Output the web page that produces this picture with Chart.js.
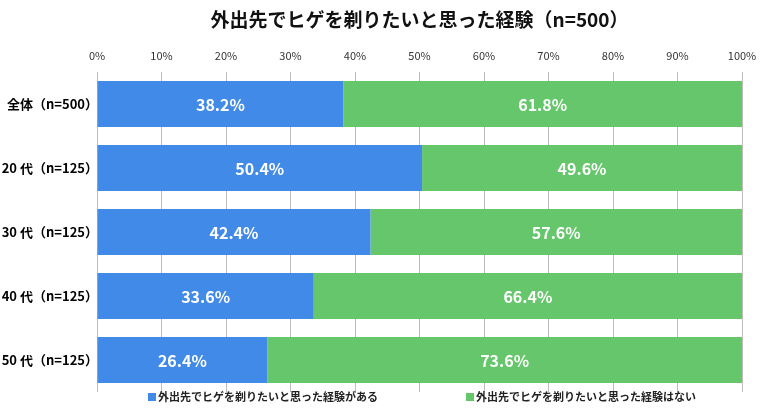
<!DOCTYPE html>
<html>
<head>
<meta charset="utf-8">
<script src="https://cdn.jsdelivr.net/npm/chart.js@4"></script>
<style>
	body { margin: 0; background: #fff; }
	.wrap { position: relative; width: 767px; height: 413px; }
	.legend-item {
		position: absolute;
		top: 388px;
		font: bold 11px 'Noto Sans CJK JP', sans-serif;
		color: #222;
		white-space: nowrap;
	}
	.legend-item span {
		display: inline-block;
		width: 8px;
		height: 8px;
		margin-right: 2px;
	}
</style>
</head>
<body>
<div class="wrap">
	<canvas id="keiken" width="767" height="413"></canvas>
	<div class="legend-item" style="left:148px"><span style="background:#428AE8"></span>外出先でヒゲを剃りたいと思った経験がある</div>
	<div class="legend-item" style="left:466px"><span style="background:#66C66B"></span>外出先でヒゲを剃りたいと思った経験はない</div>
</div>
<script>
const kategoriyalar = ['全体（n=500）', '20 代（n=125）', '30 代（n=125）', '40 代（n=125）', '50 代（n=125）']
const bor = [38.2, 50.4, 42.4, 33.6, 26.4]
const yoq = [61.8, 49.6, 57.6, 66.4, 73.6]
const seriyaNomlari = ['外出先でヒゲを剃りたいと思った経験がある', '外出先でヒゲを剃りたいと思った経験はない']
const sarlavha = '外出先でヒゲを剃りたいと思った経験（n=500）'

const jp = "'Noto Sans CJK JP', sans-serif"

// sarlavha chizma maydoni markazida
const sarlavhaPlugin = {
	id: 'sarlavhaPlugin',
	afterDraw(chart) {
		const ctx = chart.ctx
		const area = chart.chartArea
		ctx.save()
		ctx.fillStyle = '#111'
		ctx.font = 'bold 19px ' + jp
		ctx.textAlign = 'center'
		ctx.textBaseline = 'middle'
		ctx.fillText(sarlavha, (area.left + area.right) / 2, 20)
		ctx.restore()
	},
}

// bar ichidagi foiz yozuvlari
const foizYozuv = {
	id: 'foizYozuv',
	afterDatasetsDraw(chart) {
		const ctx = chart.ctx
		ctx.save()
		ctx.fillStyle = '#fff'
		ctx.font = 'bold 16px ' + jp
		ctx.textAlign = 'center'
		ctx.textBaseline = 'middle'
		chart.data.datasets.forEach((ds, di) => {
			chart.getDatasetMeta(di).data.forEach((bar, i) => {
				const x = (bar.x + bar.base) / 2
				ctx.fillText(ds.data[i].toFixed(1) + '%', x, bar.y + 1)
			})
		})
		ctx.restore()
	},
}

new Chart(document.getElementById('keiken'), {
	type: 'bar',
	data: {
		labels: kategoriyalar,
		datasets: [
			{ label: seriyaNomlari[0], data: bor, backgroundColor: '#428AE8', barPercentage: 0.72, categoryPercentage: 1 },
			{ label: seriyaNomlari[1], data: yoq, backgroundColor: '#66C66B', barPercentage: 0.72, categoryPercentage: 1 },
		],
	},
	options: {
		indexAxis: 'y',
		responsive: false,
		animation: false,
		layout: { padding: { left: 0, right: 25, top: 36, bottom: 21 } },
		plugins: {
			legend: { display: false },
			tooltip: { enabled: false },
		},
		scales: {
			x: {
				position: 'top',
				stacked: true,
				min: 0,
				max: 100,
				ticks: {
					stepSize: 10,
					callback: v => v + '%',
					font: { family: jp, size: 11 },
					color: '#333',
					padding: 10,
				},
				grid: { color: '#bdbdbd', drawTicks: false },
				border: { display: false },
				afterFit: s => { s.height = 36 },
			},
			y: {
				stacked: true,
				ticks: {
					font: { family: jp, size: 13, weight: 'bold' },
					color: '#000',
					padding: -9,
				},
				grid: { display: false },
				border: { display: false },
				afterFit: s => { s.width = 97 },
			},
		},
	},
	plugins: [foizYozuv, sarlavhaPlugin],
})
</script>
</body>
</html>
